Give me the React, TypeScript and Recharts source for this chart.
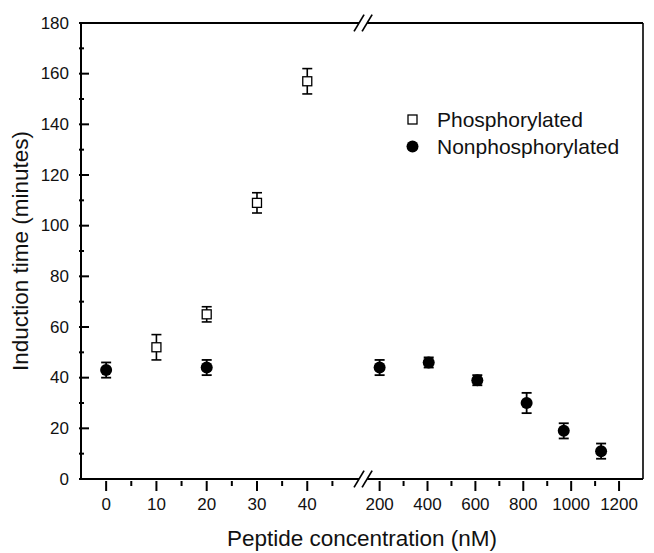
import {
  ScatterChart,
  Scatter,
  XAxis,
  YAxis,
  ErrorBar,
  ReferenceLine,
  Legend,
} from 'recharts';

// Peptide concentration (nM) and induction time (minutes)
const phosX = [10, 20, 30, 40];
const phosY = [52, 65, 109, 157];
const phosErr = [5, 3, 4, 5];

const nonX = [0, 20, 200, 405, 608, 814, 969, 1125];
const nonY = [43, 44, 44, 46, 39, 30, 19, 11];
const nonErr = [3, 3, 3, 2, 2, 4, 3, 3];

const xMajor = [0, 10, 20, 30, 40, 200, 400, 600, 800, 1000, 1200];
const xMinor = [5, 15, 25, 35, 45, 300, 500, 700, 900, 1100];
const yTicks = [0, 10, 20, 30, 40, 50, 60, 70, 80, 90, 100, 110, 120, 130, 140, 150, 160, 170, 180];

// broken axis: 0..50 linear, then 200..1300 compressed 21x
const U200 = 54.39;
const toAxis = (x: number) => (x <= 50 ? x : U200 + (x - 200) / 21);
const X_MIN = -5;
const X_MAX = toAxis(1300);
const BREAK = 51.1;
const GAP = 0.8;
const SDX = 1.0;
const SDY = 3.3;

const FONT = '"Liberation Sans", Arial, Helvetica, sans-serif';

const phosData = phosX.map((x, i) => ({ u: toAxis(x), y: phosY[i], err: phosErr[i] }));
const nonData = nonX.map((x, i) => ({ u: toAxis(x), y: nonY[i], err: nonErr[i] }));

const xLabels = new Map<number, string>();
xMajor.forEach((v) => xLabels.set(toAxis(v), String(v)));
const xTickVals = [...xMajor, ...xMinor].map(toAxis).sort((a, b) => a - b);

const XTick = (props: any) => {
  const { x, y, payload } = props;
  const label = xLabels.get(payload.value);
  const major = label !== undefined;
  return (
    <g>
      <line x1={x} x2={x} y1={y} y2={y + (major ? 10 : 5)} stroke="#000" strokeWidth={2} />
      {major && (
        <text x={x} y={y + 23.5} textAnchor="middle" dominantBaseline="central" fontSize={17} fontFamily={FONT} fill="#111">
          {label}
        </text>
      )}
    </g>
  );
};

const YTick = (props: any) => {
  const { x, y, payload } = props;
  const major = payload.value % 20 === 0;
  return (
    <g>
      <line x1={x} x2={x + (major ? 10 : 5)} y1={y} y2={y} stroke="#000" strokeWidth={2} />
      {major && (
        <text x={x - 10} y={y} textAnchor="end" dominantBaseline="central" fontSize={17} fontFamily={FONT} fill="#111">
          {payload.value}
        </text>
      )}
    </g>
  );
};

const Square = (props: any) => {
  const { cx, cy } = props;
  if (cx == null || cy == null) return null;
  return <rect x={cx - 4.5} y={cy - 4.5} width={9} height={9} fill="#fff" stroke="#000" strokeWidth={1.3} />;
};

const Dot = (props: any) => {
  const { cx, cy } = props;
  if (cx == null || cy == null) return null;
  return <circle cx={cx} cy={cy} r={6} fill="#000" />;
};

const LegendBox = () => (
  <div style={{ fontFamily: FONT, fontSize: 21, color: '#111', lineHeight: '27px' }}>
    <div style={{ display: 'flex', alignItems: 'center' }}>
      <svg width={32} height={27}>
        <rect x={3} y={9} width={9} height={9} fill="#fff" stroke="#000" strokeWidth={1.3} />
      </svg>
      <span>Phosphorylated</span>
    </div>
    <div style={{ display: 'flex', alignItems: 'center' }}>
      <svg width={32} height={27}>
        <circle cx={7.5} cy={13.5} r={6} fill="#000" />
      </svg>
      <span>Nonphosphorylated</span>
    </div>
  </div>
);

const breakLines = (yv: number, key: string) => [
  <ReferenceLine key={key + 'a'} ifOverflow="visible" stroke="#000" strokeWidth={2}
    segment={[{ x: X_MIN, y: yv }, { x: BREAK - GAP, y: yv }]} />,
  <ReferenceLine key={key + 'b'} ifOverflow="visible" stroke="#000" strokeWidth={2}
    segment={[{ x: BREAK + GAP, y: yv }, { x: X_MAX, y: yv }]} />,
  <ReferenceLine key={key + 'c'} ifOverflow="visible" stroke="#000" strokeWidth={1.7}
    segment={[{ x: BREAK - GAP - SDX, y: yv - SDY }, { x: BREAK - GAP + SDX, y: yv + SDY }]} />,
  <ReferenceLine key={key + 'd'} ifOverflow="visible" stroke="#000" strokeWidth={1.7}
    segment={[{ x: BREAK + GAP - SDX, y: yv - SDY }, { x: BREAK + GAP + SDX, y: yv + SDY }]} />,
];

export default function App() {
  return (
    <div style={{ position: 'absolute', left: 0, top: 0, background: '#fff' }}>
      <ScatterChart width={654} height={553} margin={{ top: 23, right: 11, left: 0, bottom: 0 }}>
        <XAxis
          type="number"
          dataKey="u"
          domain={[X_MIN, X_MAX]}
          ticks={xTickVals}
          interval={0}
          tickSize={0}
          tickLine={false}
          axisLine={false}
          tick={XTick}
          height={74}
          allowDataOverflow
          label={{
            content: (p: any) => {
              const vb = p.viewBox;
              return (
                <text x={vb.x + vb.width / 2} y={vb.y + 59} textAnchor="middle" dominantBaseline="central" fontSize={22.5} fontFamily={FONT} fill="#111">
                  Peptide concentration (nM)
                </text>
              );
            },
          }}
        />
        <YAxis
          type="number"
          dataKey="y"
          domain={[0, 180]}
          ticks={yTicks}
          interval={0}
          tickSize={0}
          tickLine={false}
          axisLine={{ stroke: '#000', strokeWidth: 2 }}
          tick={YTick}
          width={81}
          allowDataOverflow
          label={{
            content: (p: any) => {
              const vb = p.viewBox;
              const cx = vb.x + 20;
              const cy = vb.y + vb.height / 2;
              return (
                <text x={cx} y={cy} transform={`rotate(-90 ${cx} ${cy})`} textAnchor="middle" dominantBaseline="central" fontSize={22.5} fontFamily={FONT} fill="#111">
                  Induction time (minutes)
                </text>
              );
            },
          }}
        />
        {breakLines(0, 'bottom')}
        {breakLines(180, 'top')}
        <ReferenceLine x={X_MAX} ifOverflow="visible" stroke="#000" strokeWidth={1.6} />
        <Legend
          layout="horizontal"
          verticalAlign="middle"
          align="center"
          content={LegendBox}
          wrapperStyle={{ top: 106, left: 405, width: 240 }}
        />
        <Scatter name="Nonphosphorylated" data={nonData} shape={Dot} isAnimationActive={false}>
          <ErrorBar dataKey="err" direction="y" width={5} stroke="#000" strokeWidth={1.8} />
        </Scatter>
        <Scatter name="Phosphorylated" data={phosData} shape={Square} isAnimationActive={false}>
          <ErrorBar dataKey="err" direction="y" width={5} stroke="#000" strokeWidth={1.6} />
        </Scatter>
      </ScatterChart>
    </div>
  );
}
